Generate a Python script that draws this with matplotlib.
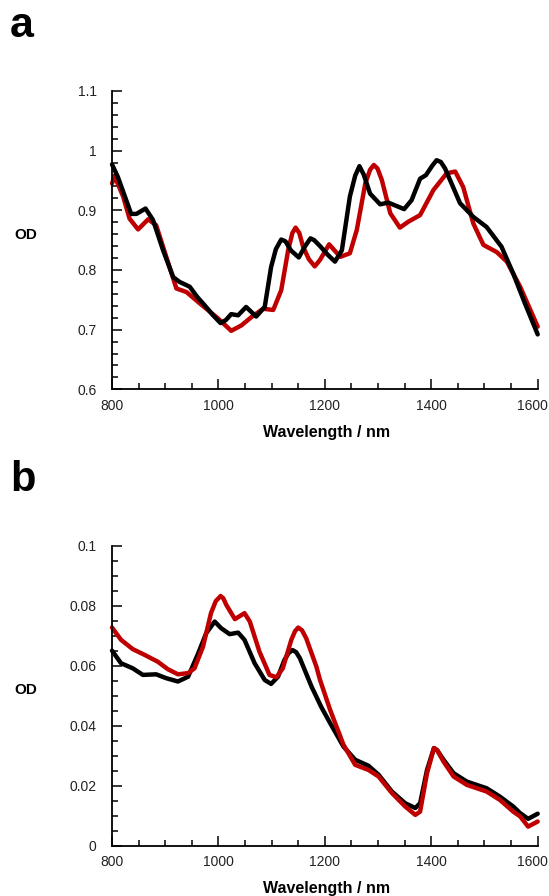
#NIR spectra - OD vs wavelength, two panels
import matplotlib
matplotlib.use("Agg")
import matplotlib.pyplot as plt
from matplotlib.ticker import MultipleLocator
from matplotlib.transforms import ScaledTranslation

plt.rcParams['font.family'] = ['Liberation Sans', 'DejaVu Sans']

# Panel a - black curve
a_black_wl = [800, 811, 836, 846, 863, 877, 896, 915, 927, 946, 960, 974, 990,
              1004, 1014, 1024, 1037, 1052, 1071, 1087, 1099, 1108, 1118, 1126,
              1136, 1151, 1163, 1173, 1180, 1191, 1206, 1219, 1232, 1247, 1257,
              1265, 1273, 1285, 1304, 1319, 1349, 1363, 1379, 1390, 1402, 1410,
              1418, 1426, 1454, 1479, 1504, 1532, 1554, 1576, 1600]
a_black_od = [0.977, 0.956, 0.894, 0.894, 0.903, 0.884, 0.833, 0.788, 0.780, 0.772,
              0.755, 0.741, 0.724, 0.711, 0.716, 0.726, 0.724, 0.738, 0.722, 0.738,
              0.805, 0.835, 0.851, 0.848, 0.833, 0.821, 0.840, 0.853, 0.850, 0.840,
              0.825, 0.814, 0.833, 0.923, 0.958, 0.974, 0.960, 0.928, 0.910, 0.913,
              0.902, 0.917, 0.953, 0.959, 0.975, 0.984, 0.981, 0.970, 0.912, 0.889,
              0.872, 0.839, 0.794, 0.744, 0.692]

# Panel a - red curve
a_red_wl = [800, 805, 821, 833, 849, 868, 883, 902, 921, 940, 965, 999, 1024, 1043,
            1062, 1084, 1103, 1118, 1131, 1139, 1145, 1152, 1159, 1170, 1181, 1191,
            1208, 1229, 1247, 1260, 1276, 1285, 1292, 1299, 1307, 1323, 1341, 1357,
            1379, 1404, 1429, 1445, 1460, 1479, 1498, 1523, 1542, 1567, 1600]
a_red_od = [0.945, 0.957, 0.923, 0.886, 0.868, 0.885, 0.875, 0.822, 0.769, 0.763,
            0.744, 0.719, 0.698, 0.707, 0.721, 0.735, 0.733, 0.766, 0.833, 0.862,
            0.871, 0.862, 0.839, 0.818, 0.806, 0.817, 0.843, 0.822, 0.828, 0.867,
            0.945, 0.968, 0.976, 0.970, 0.951, 0.895, 0.871, 0.881, 0.892, 0.934,
            0.962, 0.965, 0.939, 0.878, 0.842, 0.830, 0.814, 0.772, 0.705]

# Panel b - black curve
b_black_wl = [800, 817, 839, 858, 883, 902, 924, 943, 962, 977, 993, 1005, 1021,
              1037, 1049, 1068, 1087, 1099, 1112, 1124, 1132, 1139, 1146, 1153,
              1175, 1193, 1210, 1235, 1257, 1282, 1301, 1326, 1351, 1370, 1379,
              1392, 1405, 1411, 1423, 1442, 1467, 1504, 1529, 1554, 1567, 1582, 1600]
b_black_od = [0.0650, 0.0608, 0.0591, 0.0569, 0.0571, 0.0558, 0.0547, 0.0563,
              0.0641, 0.0708, 0.0747, 0.0725, 0.0705, 0.0710, 0.0686, 0.0608,
              0.0552, 0.0539, 0.0563, 0.0619, 0.0642, 0.0652, 0.0645, 0.0625,
              0.0530, 0.0463, 0.0408, 0.0330, 0.0286, 0.0266, 0.0236, 0.0180,
              0.0141, 0.0125, 0.0141, 0.0252, 0.0325, 0.0318, 0.0286, 0.0241,
              0.0213, 0.0191, 0.0163, 0.0130, 0.0108, 0.0089, 0.0106]

# Panel b - red curve
b_red_wl = [800, 817, 839, 861, 886, 905, 924, 943, 955, 971, 986, 995, 1004, 1009,
            1015, 1031, 1049, 1059, 1077, 1096, 1109, 1121, 1137, 1144, 1150, 1157,
            1165, 1184, 1191, 1210, 1235, 1257, 1282, 1301, 1326, 1351, 1370, 1379,
            1392, 1405, 1411, 1423, 1442, 1467, 1504, 1529, 1554, 1567, 1582, 1600]
b_red_od = [0.0727, 0.0686, 0.0655, 0.0636, 0.0613, 0.0588, 0.0571, 0.0575,
            0.0591, 0.0663, 0.0775, 0.0815, 0.0832, 0.0825, 0.0802, 0.0755,
            0.0775, 0.0747, 0.0647, 0.0569, 0.0561, 0.0591, 0.0686, 0.0715,
            0.0727, 0.0718, 0.0691, 0.0597, 0.0552, 0.0452, 0.0336, 0.0269,
            0.0252, 0.0230, 0.0175, 0.0130, 0.0102, 0.0113, 0.0241, 0.0325,
            0.0318, 0.0280, 0.0230, 0.0202, 0.0180, 0.0152, 0.0113, 0.0097,
            0.0063, 0.0080]

# Tick labels
x_ticks = [800, 1000, 1200, 1400, 1600]
x_labels = ["800", "1000", "1200", "1400", "1600"]
a_yticks = [0.6, 0.7, 0.8, 0.9, 1.0, 1.1]
a_ylabels = ["0.6", "0.7", "0.8", "0.9", "1", "1.1"]
b_yticks = [0, 0.02, 0.04, 0.06, 0.08, 0.1]
b_ylabels = ["0", "0.02", "0.04", "0.06", "0.08", "0.1"]

RED = '#c00000'
W, H = 549, 896

fig = plt.figure(figsize=(W / 100, H / 100), dpi=100)


def setup_axes(ax, yticks, ylabels, yminor):
    ax.spines['top'].set_visible(False)
    ax.spines['right'].set_visible(False)
    ax.spines['left'].set_linewidth(1.3)
    ax.spines['bottom'].set_linewidth(1.3)
    ax.set_xlim(800, 1600)
    ax.set_ylim(yticks[0], yticks[-1])
    ax.set_xticks(x_ticks)
    ax.set_xticklabels(x_labels)
    ax.set_yticks(yticks)
    ax.set_yticklabels(ylabels)
    ax.xaxis.set_minor_locator(MultipleLocator(50))
    ax.yaxis.set_minor_locator(MultipleLocator(yminor))
    ax.tick_params(which='both', direction='in', width=1.1, colors='black',
                   labelsize=10, labelcolor='#222222')
    ax.tick_params(which='major', length=7)
    ax.tick_params(which='minor', length=4)
    ax.tick_params(axis='y', which='major', pad=11)
    ax.tick_params(axis='x', which='major', pad=7)
    # last x label sits a bit left so it stays inside the figure
    last = ax.get_xticklabels()[-1]
    last.set_transform(last.get_transform() + ScaledTranslation(-5 / 100, 0, fig.dpi_scale_trans))


# Panel a
ax1 = fig.add_axes([112 / W, 1 - 389.3 / H, 425.7 / W, 298.3 / H])
ax1.plot(a_red_wl, a_red_od, color=RED, linewidth=3.2, solid_joinstyle='round',
         solid_capstyle='round', clip_on=False)
ax1.plot(a_black_wl, a_black_od, color='black', linewidth=3.2, solid_joinstyle='round',
         solid_capstyle='round', clip_on=False)
setup_axes(ax1, a_yticks, a_ylabels, 0.02)

# Panel b
ax2 = fig.add_axes([112 / W, 1 - 845.5 / H, 425.7 / W, 299.8 / H])
ax2.plot(b_black_wl, b_black_od, color='black', linewidth=3.2, solid_joinstyle='round',
         solid_capstyle='round', clip_on=False)
ax2.plot(b_red_wl, b_red_od, color=RED, linewidth=3.2, solid_joinstyle='round',
         solid_capstyle='round', clip_on=False)
setup_axes(ax2, b_yticks, b_ylabels, 0.005)

# Labels
for y_od, y_xl in [(235, 432), (690, 888)]:
    fig.text(26 / W, 1 - y_od / H, "OD", ha='center', va='center',
             fontsize=11, fontweight='bold')
    fig.text(327 / W, 1 - y_xl / H, "Wavelength / nm", ha='center', va='center',
             fontsize=11.5, fontweight='bold')

fig.text(10 / W, 1 - 37 / H, "a", ha='left', va='baseline', fontsize=31, fontweight='bold')
fig.text(10 / W, 1 - 491 / H, "b", ha='left', va='baseline', fontsize=30, fontweight='bold')

plt.savefig("out.png", dpi=100)
